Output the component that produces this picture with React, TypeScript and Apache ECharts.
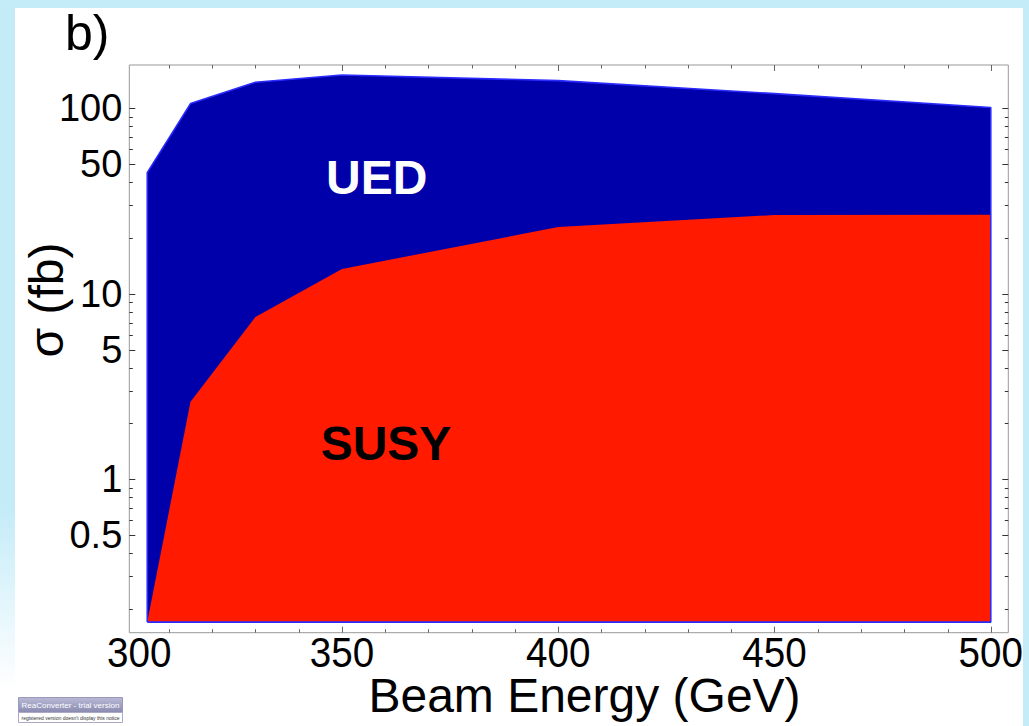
import { useEffect, useRef } from 'react';
import * as echarts from 'echarts';

// ---- data ----
const energies = [305, 315, 330, 350, 400, 450, 500]; // Beam Energy (GeV)
const uedXsec = [45, 106, 138, 151, 141, 120, 101]; // sigma (fb), UED
const susyXsec = [0.17, 2.62, 7.5, 13.6, 22.9, 26.6, 26.7]; // sigma (fb), SUSY
const fillBase = 0.17;

// ---- axes ----
const xMin = 300.85;
const xMax = 504.05;
const yMin = 0.149;
const yMax = 171.1;

const xMajorTicks = [350, 400, 450, 500];
const xMinorTicks = [310, 320, 330, 340, 360, 370, 380, 390, 410, 420, 430, 440, 460, 470, 480, 490];
const xTickLabelValues = [300, 350, 400, 450, 500];
const xTickLabels = ['300', '350', '400', '450', '500'];

const yMajorTicks = [0.5, 1, 5, 10, 50, 100];
const yMinorTicks = [0.2, 0.3, 0.4, 0.6, 0.7, 0.8, 0.9, 2, 3, 4, 6, 7, 8, 9, 20, 30, 40, 60, 70, 80, 90];
const yTickLabelValues = [0.5, 1, 5, 10, 50, 100];
const yTickLabels = ['0.5', '1', '5', '10', '50', '100'];

const FONT = '"Liberation Sans", Arial, Helvetica, sans-serif';
const LIGHT_BLUE = '#C4EBF8';

function xTickSeries(values: number[], len: number) {
  return {
    type: 'custom',
    silent: true,
    z: 10,
    data: values.map((v) => [v, yMin]),
    renderItem: (params: any, api: any) => {
      const cs = params.coordSys;
      const px = Math.round(api.coord([api.value(0), yMin])[0]) + 0.5;
      const style = { stroke: '#666', lineWidth: 1 };
      return {
        type: 'group',
        children: [
          { type: 'line', shape: { x1: px, y1: cs.y + cs.height, x2: px, y2: cs.y + cs.height - len }, style },
          { type: 'line', shape: { x1: px, y1: cs.y, x2: px, y2: cs.y + len }, style },
        ],
      };
    },
  };
}

function yTickSeries(values: number[], len: number) {
  return {
    type: 'custom',
    silent: true,
    z: 10,
    data: values.map((v) => [xMin, v]),
    renderItem: (params: any, api: any) => {
      const cs = params.coordSys;
      const py = Math.round(api.coord([xMin, api.value(1)])[1]) + 0.5;
      const style = { stroke: '#333', lineWidth: 1 };
      return {
        type: 'group',
        children: [
          { type: 'line', shape: { x1: cs.x, y1: py, x2: cs.x + len, y2: py }, style },
          { type: 'line', shape: { x1: cs.x + cs.width, y1: py, x2: cs.x + cs.width - len, y2: py }, style },
        ],
      };
    },
  };
}

export default function App() {
  const ref = useRef<HTMLDivElement>(null);

  useEffect(() => {
    document.body.style.margin = '0';
    if (!ref.current) return;
    const chart = echarts.init(ref.current, undefined, { renderer: 'svg' });

    const uedData = energies.map((e, i) => [e, uedXsec[i]]);
    const susyData = energies.map((e, i) => [e, susyXsec[i]]);
    const outline = [
      [energies[0], fillBase],
      ...uedData,
      [energies[energies.length - 1], fillBase],
      [energies[0], fillBase],
    ];

    chart.setOption({
      animation: false,
      grid: {
        show: true,
        left: 129.3,
        top: 65,
        right: 20.7,
        bottom: 93.3,
        borderColor: '#999',
        borderWidth: 1,
        backgroundColor: 'rgba(0,0,0,0)',
      },
      xAxis: {
        type: 'value',
        min: xMin,
        max: xMax,
        axisLine: { show: false },
        axisTick: { show: false },
        axisLabel: { show: false },
        splitLine: { show: false },
      },
      yAxis: {
        type: 'log',
        logBase: 10,
        min: yMin,
        max: yMax,
        axisLine: { show: false },
        axisTick: { show: false },
        axisLabel: { show: false },
        splitLine: { show: false },
        minorSplitLine: { show: false },
      },
      series: [
        {
          name: 'UED',
          type: 'line',
          data: uedData,
          symbol: 'none',
          lineStyle: { opacity: 0 },
          areaStyle: { color: '#0000AA', opacity: 1, origin: fillBase },
          z: 2,
        },
        {
          name: 'SUSY',
          type: 'line',
          data: susyData,
          symbol: 'none',
          lineStyle: { opacity: 0 },
          areaStyle: { color: '#FF1A00', opacity: 1, origin: fillBase },
          z: 3,
        },
        {
          name: 'UED outline',
          type: 'line',
          data: outline,
          symbol: 'none',
          lineStyle: { color: '#2B2BFF', width: 1.6 },
          z: 4,
        },
        xTickSeries(xMajorTicks, 6),
        xTickSeries(xMinorTicks, 3.5),
        yTickSeries(yMajorTicks, 6),
        yTickSeries(yMinorTicks, 3.5),
        {
          type: 'custom',
          silent: true,
          z: 11,
          data: xTickLabelValues.map((v) => [v, yMin]),
          renderItem: (params: any, api: any) => {
            const cs = params.coordSys;
            let px = api.coord([api.value(0), yMin])[0];
            px = Math.max(px, cs.x + 10);
            return {
              type: 'text',
              x: px,
              y: cs.y + cs.height + 19.5,
              scaleX: 0.92,
              style: {
                text: xTickLabels[params.dataIndex],
                x: 0,
                y: 0,
                align: 'center',
                verticalAlign: 'middle',
                font: `42px ${FONT}`,
                lineHeight: 32,
                fill: '#000',
              },
            };
          },
        },
        {
          type: 'custom',
          silent: true,
          z: 11,
          data: yTickLabelValues.map((v) => [xMin, v]),
          renderItem: (params: any, api: any) => {
            const cs = params.coordSys;
            const py = api.coord([xMin, api.value(1)])[1];
            return {
              type: 'text',
              style: {
                text: yTickLabels[params.dataIndex],
                x: cs.x - 7,
                y: py,
                align: 'right',
                verticalAlign: 'middle',
                font: `38px ${FONT}`,
                lineHeight: 30,
                fill: '#000',
              },
            };
          },
        },
      ],
      graphic: [
        {
          type: 'text',
          left: 65,
          top: 8,
          style: { text: 'b)', font: `50px ${FONT}`, fill: '#000' },
        },
        {
          type: 'text',
          x: 376.7,
          y: 177,
          style: { text: 'UED', font: `bold 48px ${FONT}`, fill: '#fff', align: 'center', verticalAlign: 'middle' },
          z: 20,
        },
        {
          type: 'text',
          x: 386,
          y: 443,
          style: { text: 'SUSY', font: `bold 48px ${FONT}`, fill: '#000', align: 'center', verticalAlign: 'middle' },
          z: 20,
        },
        {
          type: 'text',
          x: 584.5,
          y: 695,
          style: {
            text: 'Beam Energy (GeV)',
            font: `48px ${FONT}`,
            lineHeight: 38,
            fill: '#000',
            align: 'center',
            verticalAlign: 'middle',
          },
        },
        {
          type: 'text',
          x: 46,
          y: 300,
          rotation: Math.PI / 2,
          style: { text: 'σ (fb)', font: `48px ${FONT}`, fill: '#000', align: 'center', verticalAlign: 'middle' },
        },
        {
          type: 'group',
          left: 18,
          top: 697,
          children: [
            {
              type: 'rect',
              shape: { x: 0, y: 0, width: 104, height: 15 },
              style: {
                fill: new echarts.graphic.LinearGradient(0, 0, 0, 1, [
                  { offset: 0, color: '#B9B9D6' },
                  { offset: 1, color: '#8A8AB0' },
                ]),
                stroke: '#9999BB',
                lineWidth: 1,
              },
            },
            {
              type: 'text',
              x: 52,
              y: 7.5,
              style: { text: 'ReaConverter - trial version', font: `8px ${FONT}`, fill: '#fff', align: 'center', verticalAlign: 'middle' },
            },
            {
              type: 'rect',
              shape: { x: 0, y: 15, width: 104, height: 10 },
              style: { fill: '#fff', stroke: '#AAAAC4', lineWidth: 1 },
            },
            {
              type: 'text',
              x: 52,
              y: 20,
              style: { text: "registered version doesn't display this notice", font: `5px ${FONT}`, fill: '#333', align: 'center', verticalAlign: 'middle' },
            },
          ],
        },
      ],
    });

    return () => chart.dispose();
  }, []);

  return (
    <div
      ref={ref}
      style={{
        width: 1029,
        height: 726,
        background: [
          `linear-gradient(${LIGHT_BLUE}, ${LIGHT_BLUE}) top / 100% 8px no-repeat`,
          `linear-gradient(${LIGHT_BLUE}, ${LIGHT_BLUE}) right / 6px 100% no-repeat`,
          `linear-gradient(to bottom, ${LIGHT_BLUE} 70%, #ffffff 95%) left / 15px 100% no-repeat`,
          '#ffffff',
        ].join(', '),
      }}
    />
  );
}
